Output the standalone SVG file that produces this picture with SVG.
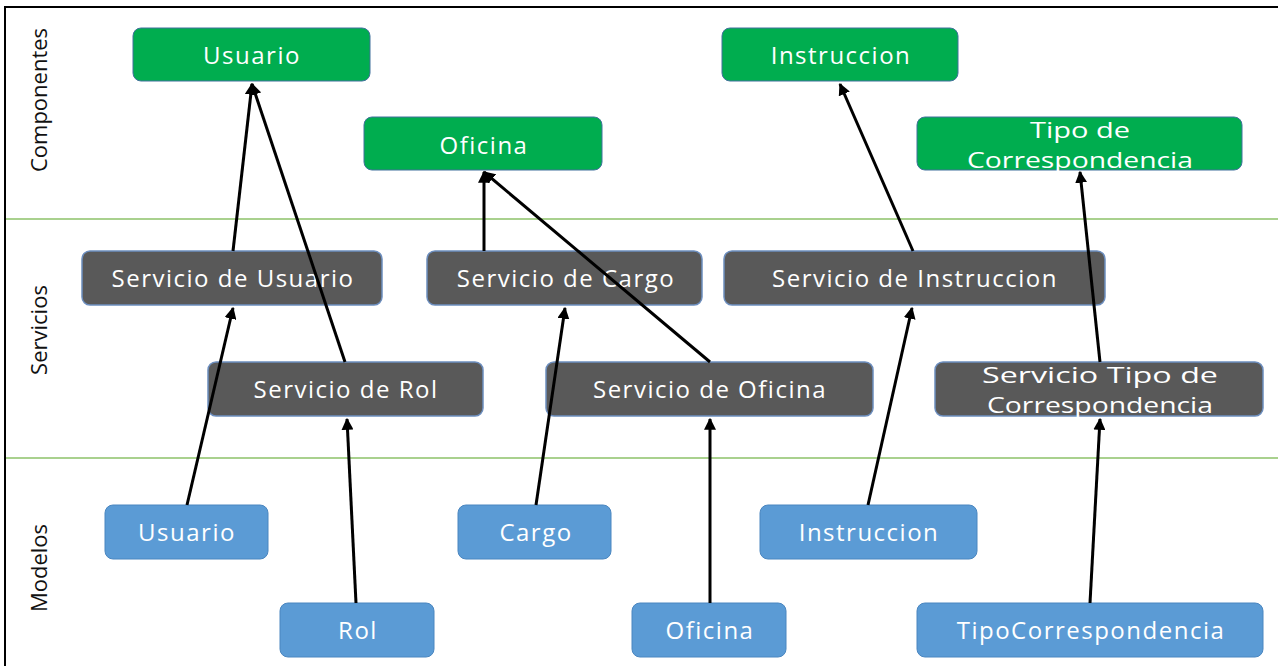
<svg xmlns="http://www.w3.org/2000/svg" width="1278" height="666" viewBox="0 0 1278 666">
<defs>
<style>
.comp{fill:#00AD4F;stroke:#41719C;stroke-width:1}
.serv{fill:#595959;stroke:#6C8EBF;stroke-width:1.5}
.model{fill:#5B9BD5;stroke:#4A86C0;stroke-width:1}
.t{font-family:"Open Sans","Liberation Sans",sans-serif;font-size:24px;letter-spacing:1.5px;fill:#ffffff;text-anchor:middle;dominant-baseline:central}
.t2{font-family:"Open Sans","Liberation Sans",sans-serif;font-size:22px;fill:#ffffff;text-anchor:middle;dominant-baseline:central}
.lane{font-family:"Open Sans","Liberation Sans",sans-serif;font-size:22px;fill:#111;text-anchor:middle;dominant-baseline:central}
.sep{stroke:#A9D18E;stroke-width:2}
.c{stroke:#000;stroke-width:3;fill:none;marker-end:url(#ah)}
</style>
<marker id="ah" viewBox="0 0 10 10" refX="9" refY="5" markerWidth="4" markerHeight="4" orient="auto" markerUnits="strokeWidth">
<path d="M0,0 L10,5 L0,10 z" fill="#000"/>
</marker>
</defs>
<rect x="0" y="0" width="1278" height="666" fill="#ffffff"/>
<rect x="5" y="7" width="1276" height="664" fill="none" stroke="#000" stroke-width="2"/>
<line class="sep" x1="6" y1="219" x2="1278" y2="219"/>
<line class="sep" x1="6" y1="458" x2="1278" y2="458"/>
<g id="lanes">
<text class="lane" transform="translate(38,100) rotate(-90)">Componentes</text>
<text class="lane" transform="translate(38,330) rotate(-90)">Servicios</text>
<text class="lane" transform="translate(38,568) rotate(-90)">Modelos</text>
</g>
<g id="comp-usuario"><rect class="comp" x="133" y="28" width="237" height="53" rx="8"/><text class="t" x="252" y="54">Usuario</text></g>
<g id="comp-oficina"><rect class="comp" x="364" y="117" width="238" height="53" rx="8"/><text class="t" x="484" y="144">Oficina</text></g>
<g id="comp-instruccion"><rect class="comp" x="722" y="28" width="236" height="53" rx="8"/><text class="t" x="841" y="54">Instruccion</text></g>
<g id="comp-tipo"><rect class="comp" x="917" y="117" width="325" height="53" rx="8"/><text class="t2" x="1080" y="129" textLength="100" lengthAdjust="spacingAndGlyphs">Tipo de</text><text class="t2" x="1080" y="159" textLength="226" lengthAdjust="spacingAndGlyphs">Correspondencia</text></g>
<g id="serv-usuario"><rect class="serv" x="82" y="251" width="300" height="54" rx="8"/><text class="t" x="233" y="277">Servicio de Usuario</text></g>
<g id="serv-cargo"><rect class="serv" x="427" y="251" width="275" height="54" rx="8"/><text class="t" x="566" y="277">Servicio de Cargo</text></g>
<g id="serv-instruccion"><rect class="serv" x="724" y="251" width="381" height="54" rx="8"/><text class="t" x="915" y="277">Servicio de Instruccion</text></g>
<g id="serv-rol"><rect class="serv" x="208" y="362" width="275" height="54" rx="8"/><text class="t" x="346" y="388">Servicio de Rol</text></g>
<g id="serv-oficina"><rect class="serv" x="546" y="362" width="327" height="54" rx="8"/><text class="t" x="710" y="388">Servicio de Oficina</text></g>
<g id="serv-tipo"><rect class="serv" x="935" y="362" width="328" height="54" rx="8"/><text class="t2" x="1100" y="374" textLength="236" lengthAdjust="spacingAndGlyphs">Servicio Tipo de</text><text class="t2" x="1100" y="404" textLength="226" lengthAdjust="spacingAndGlyphs">Correspondencia</text></g>
<g id="model-usuario"><rect class="model" x="105" y="505" width="163" height="54" rx="8"/><text class="t" x="187" y="531">Usuario</text></g>
<g id="model-cargo"><rect class="model" x="458" y="505" width="153" height="54" rx="8"/><text class="t" x="536" y="531">Cargo</text></g>
<g id="model-instruccion"><rect class="model" x="760" y="505" width="217" height="54" rx="8"/><text class="t" x="869" y="531">Instruccion</text></g>
<g id="model-rol"><rect class="model" x="280" y="603" width="154" height="54" rx="8"/><text class="t" x="358" y="629">Rol</text></g>
<g id="model-oficina"><rect class="model" x="632" y="603" width="154" height="54" rx="8"/><text class="t" x="710" y="629">Oficina</text></g>
<g id="model-tipo"><rect class="model" x="917" y="603" width="346" height="54" rx="8"/><text class="t" x="1091" y="629">TipoCorrespondencia</text></g>
<g id="connectors">
<line class="c" x1="187" y1="505" x2="233" y2="308"/>
<line class="c" x1="233" y1="251" x2="252" y2="84"/>
<line class="c" x1="345" y1="362" x2="252" y2="84"/>
<line class="c" x1="356" y1="603" x2="347" y2="419"/>
<line class="c" x1="536" y1="505" x2="565" y2="308"/>
<line class="c" x1="484" y1="251" x2="484" y2="172"/>
<line class="c" x1="710" y1="362" x2="484" y2="172"/>
<line class="c" x1="710" y1="603" x2="710" y2="419"/>
<line class="c" x1="868" y1="505" x2="912" y2="308"/>
<line class="c" x1="913" y1="251" x2="840" y2="84"/>
<line class="c" x1="1100" y1="362" x2="1080" y2="172"/>
<line class="c" x1="1090" y1="603" x2="1100" y2="419"/>
</g>
</svg>
